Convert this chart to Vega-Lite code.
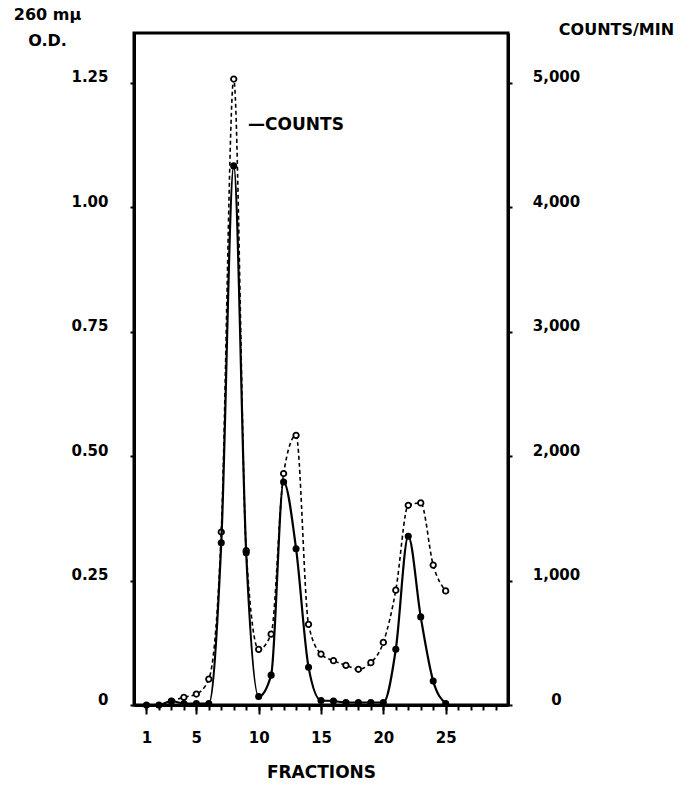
{
  "$schema": "https://vega.github.io/schema/vega-lite/v6.json",
  "width": 374,
  "height": 672,
  "autosize": {"type": "none"},
  "padding": {"left": 134, "top": 33, "right": 177, "bottom": 80},
  "background": "white",
  "config": {
    "font": "DejaVu Sans",
    "view": {"stroke": "black", "strokeWidth": 3},
    "axis": {
      "grid": false,
      "domainColor": "black",
      "domainWidth": 3,
      "tickColor": "black",
      "tickWidth": 2,
      "labelColor": "black",
      "titleColor": "black",
      "labelFont": "DejaVu Sans",
      "titleFont": "DejaVu Sans",
      "labelFontSize": 15,
      "titleFontSize": 16,
      "labelFontWeight": "bold",
      "titleFontWeight": "bold"
    }
  },
  "datasets": {
    "od": [
      {"fraction": 1, "od": 0},
      {"fraction": 2, "od": 0},
      {"fraction": 3, "od": 0.008},
      {"fraction": 4, "od": 0.003},
      {"fraction": 5, "od": 0.003},
      {"fraction": 6, "od": 0.003},
      {"fraction": 7, "od": 0.326},
      {"fraction": 8, "od": 1.083},
      {"fraction": 9, "od": 0.306},
      {"fraction": 10, "od": 0.017},
      {"fraction": 11, "od": 0.06},
      {"fraction": 12, "od": 0.448},
      {"fraction": 13, "od": 0.314},
      {"fraction": 14, "od": 0.076},
      {"fraction": 15, "od": 0.009},
      {"fraction": 16, "od": 0.008},
      {"fraction": 17, "od": 0.005},
      {"fraction": 18, "od": 0.005},
      {"fraction": 19, "od": 0.005},
      {"fraction": 20, "od": 0.005},
      {"fraction": 21, "od": 0.112},
      {"fraction": 22, "od": 0.339},
      {"fraction": 23, "od": 0.177},
      {"fraction": 24, "od": 0.048},
      {"fraction": 25, "od": 0.003}
    ],
    "cpm": [
      {"fraction": 3, "counts": 30},
      {"fraction": 4, "counts": 62},
      {"fraction": 5, "counts": 88},
      {"fraction": 6, "counts": 208},
      {"fraction": 7, "counts": 1390},
      {"fraction": 8, "counts": 5030},
      {"fraction": 9, "counts": 1240},
      {"fraction": 10, "counts": 447},
      {"fraction": 11, "counts": 570},
      {"fraction": 12, "counts": 1860},
      {"fraction": 13, "counts": 2167},
      {"fraction": 14, "counts": 648},
      {"fraction": 15, "counts": 409},
      {"fraction": 16, "counts": 356},
      {"fraction": 17, "counts": 319},
      {"fraction": 18, "counts": 287},
      {"fraction": 19, "counts": 340},
      {"fraction": 20, "counts": 503},
      {"fraction": 21, "counts": 923},
      {"fraction": 22, "counts": 1605},
      {"fraction": 23, "counts": 1624},
      {"fraction": 24, "counts": 1124},
      {"fraction": 25, "counts": 917}
    ],
    "notes": [
      {"fraction": 9.15, "od": 1.165, "label": "—COUNTS"}
    ]
  },
  "layer": [
    {
      "data": {"name": "cpm"},
      "encoding": {
        "x": {
          "field": "fraction",
          "type": "quantitative",
          "scale": {"domain": [0, 30], "nice": false, "zero": false},
          "axis": {
            "orient": "bottom",
            "values": [1,2,3,4,5,6,7,8,9,10,11,12,13,14,15,16,17,18,19,20,21,22,23,24,25,26,27,28,29],
            "tickSize": 5,
            "labels": false,
            "domain": false,
            "title": null
          }
        },
        "y": {
          "field": "counts",
          "type": "quantitative",
          "scale": {"domain": [0, 5400], "nice": false},
          "axis": {
            "orient": "right",
            "values": [0, 1000, 2000, 3000, 4000, 5000],
            "labelExpr": "format(datum.value, ',')",
            "tickSize": 4,
            "labelAlign": "center",
            "labelPadding": 44,
            "labelOffset": -6,
            "title": "COUNTS/MIN",
            "titleAngle": 0,
            "titleX": 108,
            "titleY": -4,
            "titleAlign": "center",
            "titleBaseline": "middle"
          }
        }
      },
      "layer": [
        {"mark": {"type": "line", "interpolate": "monotone", "color": "black", "strokeWidth": 1.6, "strokeDash": [4, 3]}},
        {"mark": {"type": "point", "shape": "circle", "fill": "white", "stroke": "black", "strokeWidth": 1.8, "size": 30, "opacity": 1}}
      ]
    },
    {
      "data": {"name": "od"},
      "encoding": {
        "x": {
          "field": "fraction",
          "type": "quantitative",
          "scale": {"domain": [0, 30], "nice": false, "zero": false},
          "axis": {
            "orient": "bottom",
            "values": [1, 5, 10, 15, 20, 25],
            "tickSize": 9,
            "labelPadding": 16,
            "labelFlush": false,
            "labelOverlap": false,
            "title": "FRACTIONS",
            "titleFontSize": 17,
            "titleY": 67,
            "titleBaseline": "middle"
          }
        },
        "y": {
          "field": "od",
          "type": "quantitative",
          "scale": {"domain": [0, 1.35], "nice": false},
          "axis": {
            "orient": "left",
            "values": [0, 0.25, 0.5, 0.75, 1, 1.25],
            "labelExpr": "datum.value == 0 ? '0' : format(datum.value, '.2f')",
            "tickSize": 4,
            "labelPadding": 22,
            "labelOffset": -6,
            "title": ["260 mμ", "O.D."],
            "titleAngle": 0,
            "titleX": -87,
            "titleY": -27,
            "titleAlign": "center",
            "titleBaseline": "top",
            "titleLineHeight": 26
          }
        }
      },
      "layer": [
        {"mark": {"type": "line", "interpolate": "monotone", "color": "black", "strokeWidth": 2.2}},
        {"mark": {"type": "point", "shape": "circle", "filled": true, "color": "black", "size": 50, "opacity": 1}}
      ]
    },
    {
      "data": {"name": "notes"},
      "mark": {"type": "text", "align": "left", "baseline": "middle", "fontSize": 17, "fontWeight": "bold", "font": "DejaVu Sans", "color": "black"},
      "encoding": {
        "x": {"field": "fraction", "type": "quantitative", "scale": {"domain": [0, 30], "nice": false, "zero": false}, "axis": null},
        "y": {"field": "od", "type": "quantitative", "scale": {"domain": [0, 1.35], "nice": false}, "axis": null},
        "text": {"field": "label"}
      }
    }
  ],
  "resolve": {"scale": {"y": "independent"}, "axis": {"x": "independent"}}
}
